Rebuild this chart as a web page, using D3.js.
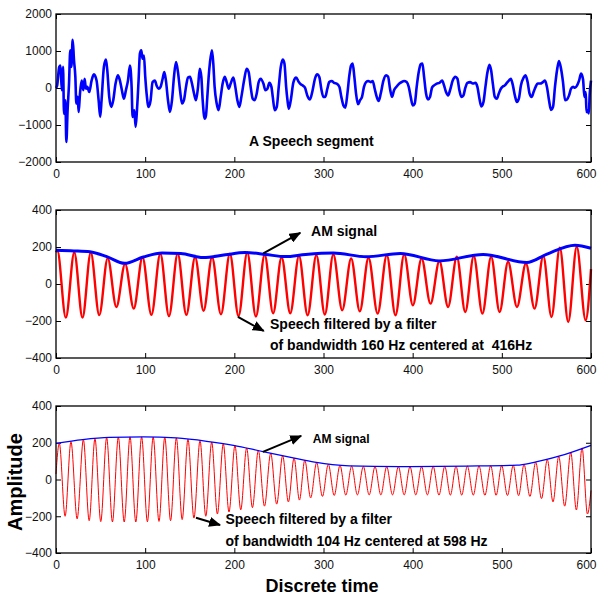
<!DOCTYPE html>
<html>
<head>
<meta charset="utf-8">
<script src="https://cdn.jsdelivr.net/npm/d3@7"></script>
<style>
  body { margin: 0; background: #fff; }
  text { font-family: "Liberation Sans", Arial, Helvetica, sans-serif; white-space: pre; }
</style>
</head>
<body>
<div id="chart"></div>
<script>
// ---- data ----
const xTicks = [0, 100, 200, 300, 400, 500, 600];
const speechTicks = [-2000, -1000, 0, 1000, 2000];
const bandTicks = [-400, -200, 0, 200, 400];

// speech segment [sample, amplitude]
const speech = [[0,0],[1.3,70],[3.6,570],[5,610],[6.5,-60],[7.9,570],[9,-700],[10.5,-330],[11.6,-1460],[13,-600],
  [14.6,120],[16,1020],[17.2,570],[18.7,1300],[20.2,750],[21.7,300],[22.8,-420],[24.3,-240],[25.4,-650],[26.9,-150],
  [28.8,200],[30.6,-60],[32.1,250],[33.6,-20],[35.1,30],[37.3,-110],[39.9,200],[42.5,370],[45.5,200],[47.8,-330],
  [49.6,-780],[51.1,-330],[53.7,570],[56,770],[57.5,480],[59.7,-240],[62,-510],[64.2,-330],[66.8,120],[69.4,340],
  [71.7,200],[73.9,-60],[76.2,-290],[78.4,-60],[80.7,200],[82.9,610],[84.8,30],[85.9,-780],[87.8,-600],[89.3,-1050],
  [90.8,-600],[92.6,200],[94.1,930],[95.6,1020],[97.1,790],[98.6,880],[100.1,300],[101.6,-150],[103.8,-510],[106.1,-330],
  [108.3,160],[110.9,200],[112.8,70],[115.1,-20],[117.3,30],[119.6,250],[121.5,430],[123.3,200],[125.6,-330],[127.8,-650],
  [130.1,-330],[132.3,300],[134.6,700],[136.8,430],[139.1,-60],[141.3,-420],[143.5,-330],[145.8,30],[148,280],[150.3,300],
  [152.5,120],[154.8,-150],[157,-330],[159.3,30],[161.2,520],[163,300],[164.5,-330],[166.7,-830],[168.2,-740],[169.7,-240],
  [171.2,300],[172.7,700],[174.9,1020],[176.4,660],[177.9,30],[180.2,-420],[182.4,-600],[184.7,-240],[186.9,120],[189.2,300],
  [191.4,160],[193.7,-20],[195.9,120],[198.9,280],[201.1,30],[203.4,-330],[205.6,-510],[207.9,-240],[210.9,200],[213.8,520],
  [216.1,430],[218.3,30],[220.6,-290],[222.8,-330],[225.1,-150],[227.3,160],[229.6,250],[232.6,120],[234.8,-60],[237.1,-20],
  [239.3,140],[241.6,30],[243.1,-240],[245.3,-600],[247.6,-510],[249.8,30],[252.1,570],[254.3,770],[256.2,660],[258.1,30],
  [259.6,-330],[261.1,-560],[263.3,-330],[266.3,160],[269.3,280],[272.3,160],[274.5,100],[276.6,70],[279.2,10],[281.8,-200],
  [284.8,-310],[287.8,-60],[290.4,250],[293,370],[295.3,300],[297.5,-20],[299.8,-240],[302,-240],[304.3,-20],[306.5,160],
  [309.2,190],[311.8,140],[314.8,120],[317.8,30],[320,-240],[322.3,-470],[324.5,-530],[326.8,-150],[329,340],[330.9,610],
  [332.7,660],[334.6,300],[336.5,-150],[338.7,-440],[341,-330],[343.2,-240],[345.4,30],[347.7,160],[350.3,190],[352.9,160],
  [355.2,190],[357.4,-20],[359.7,-240],[361.9,-350],[364.2,-150],[367.2,200],[370.2,340],[372.4,310],[374.6,-20],[376.9,-240],
  [379.1,-60],[382.1,40],[385.1,120],[387.7,160],[390.3,190],[393.3,160],[395.6,30],[397.8,-240],[400.1,-470],[402.3,-420],
  [404.5,30],[406.8,430],[409,640],[410.9,660],[412.8,300],[415,-150],[417.3,-310],[419.5,-240],[421.7,10],[424,70],
  [427,120],[430,140],[433,200],[435.2,70],[437.4,-110],[439.7,-200],[441.9,-60],[444.9,200],[447.9,300],[450.2,250],
  [452.4,-60],[454.6,-240],[456.9,-200],[459.1,10],[461.4,140],[464.4,160],[467.4,120],[470.4,140],[472.6,30],[474.9,-290],
  [477.1,-500],[479.4,-380],[481.6,30],[483.9,430],[486.1,630],[488,480],[489.9,120],[492.1,-240],[494.4,-290],[496.6,-150],
  [498.9,-20],[501.1,40],[503.4,70],[505.6,140],[507.9,200],[510.1,250],[512.4,70],[514.6,-200],[516.9,-380],[519.1,-290],
  [521.4,70],[524.4,280],[526.6,340],[528.9,160],[531.1,-150],[533.4,-240],[535.6,-110],[537.9,30],[540.1,120],[543.1,120],
  [546.1,160],[548.4,200],[550.6,30],[552.9,-330],[555.1,-590],[557.4,-510],[559.6,30],[561.9,480],[564.1,730],[566.4,520],
  [568.6,160],[570.9,-330],[573.1,-310],[575.4,-200],[577.6,-20],[579.9,30],[582.1,10],[584.4,70],[586.6,200],[588.9,390],
  [591.1,230],[592.6,-240],[594.1,-110],[594.9,-650],[596.4,-600],[597.5,-690],[598.6,-150],[600,200]];

// speech filtered around 416 Hz: peaks and troughs [sample, amplitude]
const band416 = [[0,172],[1.5,182],[11,-182],[20.5,170],[29.7,-182],[39,170],[48.5,-168],[58,140],[67.7,-124],[77.5,109],
  [87.2,-133],[97,145],[107,-167],[117,164],[126.7,-173],[136.5,164],[146.2,-167],[156,145],[165.5,-145],[175,145],
  [185,-164],[195,164],[204.7,-173],[214.5,170],[224.2,-176],[234,158],[243.5,-158],[253,145],[262.7,-158],[272.5,152],
  [282.2,-169],[292,156],[301.5,-165],[311,160],[321,-142],[331,138],[340.7,-148],[350.5,142],[360.7,-160],[371,156],
  [380.7,-169],[390.5,160],[400.2,-115],[410,138],[420,-106],[430,124],[439.7,-124],[449.5,147],[459,-151],[468.5,151],
  [478.2,-160],[488,147],[497.5,-151],[507,120],[517,-124],[527,111],[536.7,-133],[546.5,151],[555.7,-178],[565,196],
  [574.5,-205],[584,201],[594,-196],[600,80]];
const env416 = [[0,182],[20,179],[38,174],[57,148],[77,112],[98,146],[119,168],[140,165],[165,143],[190,158],[212,170],
  [235,160],[257,148],[280,160],[311,168],[348,147],[386,165],[430,125],[479,160],[528,116],[550,160],[582,210],[600,193]];

// speech filtered around 598 Hz: peaks and troughs [sample, amplitude]
const band598 = [[0,30],[3.7,198],[10.2,-200],[16.8,206],[23.7,-214],[30.7,217],[37.2,-224],[43.7,223],[50.2,-229],[56.8,228],
  [63.3,-231],[69.9,231],[76.5,-231],[83,232],[89.5,-231],[96,232],[102.5,-230],[109,231],[115.5,-228],[122,230],
  [128.5,-224],[135,226],[141.5,-218],[148,219],[154.7,-210],[161.5,212],[168,-200],[174.6,204],[181,-188],[187.6,195],
  [194,-177],[200.7,185],[207.2,-165],[213.8,172],[220.3,-153],[226.9,159],[233.8,-145],[240.8,143],[247.5,-134],[254.2,130],
  [260.6,-122],[267,117],[273,-112],[279,105],[285.6,-100],[292.3,92],[298.8,-92],[305.4,83],[312,-87],[318.5,77],
  [325,-85],[331.6,73],[338,-84],[344.7,71],[351.2,-84],[357.8,70],[364.3,-84],[370.9,70],[377.4,-84],[384,70],
  [390.5,-84],[397,70],[403.5,-84],[410,70],[416.5,-84],[423,71],[429.5,-85],[436,71],[442.3,-85],[448.6,72],
  [455,-85],[461.3,73],[468,-85],[474.4,74],[481,-86],[487.5,75],[493.6,-86],[499.8,76],[506.3,-87],[512.8,77],
  [518.8,-88],[524.9,82],[531.5,-92],[538,94],[544.5,-104],[551,108],[557.4,-122],[563.8,126],[570.5,-145],[577.3,148],
  [583.6,-166],[590,172],[596,-188],[600,-60]];
const env598 = [[0,196],[30,217],[60,229],[98,232],[135,226],[169,208],[199,186],[232,152],[266,118],[290,95],[310,81],
  [329,74],[386,70],[460,73],[517,78],[535,92],[565,128],[600,186]];

// ---- drawing ----
const W = 600, H = 596;
const left = 56, right = 591;

const svg = d3.select("#chart").append("svg")
  .attr("width", W)
  .attr("height", H);

svg.append("rect").attr("width", W).attr("height", H).attr("fill", "#fff");

const defs = svg.append("defs");
defs.append("marker")
  .attr("id", "head")
  .attr("markerUnits", "userSpaceOnUse")
  .attr("viewBox", "0 0 12 10")
  .attr("refX", 11)
  .attr("refY", 5)
  .attr("markerWidth", 12)
  .attr("markerHeight", 10)
  .attr("orient", "auto")
  .append("path")
  .attr("d", "M0,0 L12,5 L0,10 Z")
  .attr("fill", "#000");

const x = d3.scaleLinear().domain([0, 600]).range([left, right]);
const fmt = d3.format("d");

function makePanel(top, bottom, domain, ticks) {
  const y = d3.scaleLinear().domain(domain).range([bottom, top]);
  const g = svg.append("g");

  const styleAxis = sel => {
    sel.attr("font-size", 12)
      .attr("font-family", "Liberation Sans, Arial, sans-serif");
    sel.select(".domain").remove();
    sel.selectAll(".tick line").attr("stroke", "#000");
    sel.selectAll(".tick text").attr("fill", "#111");
  };

  g.append("g")
    .attr("transform", `translate(0,${bottom})`)
    .call(d3.axisBottom(x).tickValues(xTicks).tickFormat(fmt)
      .tickSizeInner(-5).tickSizeOuter(0).tickPadding(7))
    .call(styleAxis)
    // last label sits a little inside the frame, as in the original
    .call(sel => sel.selectAll(".tick text").filter(d => d === 600).attr("dx", -5));
  g.append("g")
    .attr("transform", `translate(0,${top})`)
    .call(d3.axisTop(x).tickValues(xTicks).tickSizeInner(-5).tickSizeOuter(0).tickFormat(""))
    .call(styleAxis);
  g.append("g")
    .attr("transform", `translate(${left},0)`)
    .call(d3.axisLeft(y).tickValues(ticks).tickFormat(fmt)
      .tickSizeInner(-5).tickSizeOuter(0).tickPadding(4))
    .call(styleAxis);
  g.append("g")
    .attr("transform", `translate(${right},0)`)
    .call(d3.axisRight(y).tickValues(ticks).tickSizeInner(-5).tickSizeOuter(0).tickFormat(""))
    .call(styleAxis);

  const plot = g.append("g");

  g.append("rect")
    .attr("x", left)
    .attr("y", top)
    .attr("width", right - left)
    .attr("height", bottom - top)
    .attr("fill", "none")
    .attr("stroke", "#000")
    .attr("stroke-width", 1.3);

  return { g, plot, y };
}

function drawLine(panel, data, color, width) {
  const line = d3.line()
    .x(d => x(d[0]))
    .y(d => panel.y(d[1]))
    .curve(d3.curveMonotoneX);
  panel.plot.append("path")
    .datum(data)
    .attr("fill", "none")
    .attr("stroke", color)
    .attr("stroke-width", width)
    .attr("stroke-linejoin", "round")
    .attr("d", line);
}

function label(panel, t, v, str, size) {
  return panel.g.append("text")
    .attr("x", x(t))
    .attr("y", panel.y(v))
    .attr("font-size", size)
    .attr("font-weight", "bold")
    .attr("fill", "#000")
    .attr("xml:space", "preserve")
    .text(str);
}

function arrow(panel, t0, v0, t1, v1) {
  panel.g.append("line")
    .attr("x1", x(t0)).attr("y1", panel.y(v0))
    .attr("x2", x(t1)).attr("y2", panel.y(v1))
    .attr("stroke", "#000")
    .attr("stroke-width", 2)
    .attr("marker-end", "url(#head)");
}

// Panel 1: speech segment
const p1 = makePanel(14, 162, [-2000, 2000], speechTicks);
drawLine(p1, speech, "#0000ff", 2.6);
label(p1, 216.5, -1570, "A Speech segment", 14);

// Panel 2: 416 Hz band
const p2 = makePanel(210, 358, [-400, 400], bandTicks);
drawLine(p2, band416, "#ff0000", 2.4);
drawLine(p2, env416, "#0000ff", 3);
arrow(p2, 232.5, 166, 274, 277);
label(p2, 286, 262, "AM signal", 14);
arrow(p2, 204, -178, 233, -254);
label(p2, 240, -242, "Speech filtered by a filter", 14);
label(p2, 240, -355, "of bandwidth 160 Hz centered at  416Hz", 14);

// Panel 3: 598 Hz band
const p3 = makePanel(406, 553, [-400, 400], bandTicks);
drawLine(p3, band598, "#ff0000", 1);
drawLine(p3, env598, "#0000ff", 1.3);
arrow(p3, 232, 150, 275, 237);
label(p3, 288, 198, "AM signal", 12);
arrow(p3, 157, -208, 184, -248);
label(p3, 190, -243, "Speech filtered by a filter", 14);
label(p3, 190, -360, "of bandwidth 104 Hz centered at 598 Hz", 14);

// axis titles
svg.append("text")
  .attr("transform", "translate(22,482) rotate(-90)")
  .attr("text-anchor", "middle")
  .attr("font-size", 20)
  .attr("font-weight", "bold")
  .text("Amplitude");

svg.append("text")
  .attr("x", 322)
  .attr("y", 592)
  .attr("text-anchor", "middle")
  .attr("font-size", 18)
  .attr("font-weight", "bold")
  .text("Discrete time");
</script>
</body>
</html>
